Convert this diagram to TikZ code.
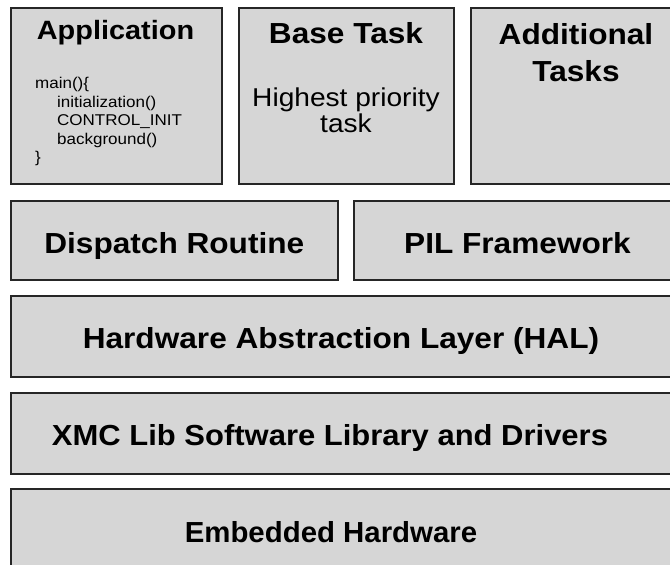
\documentclass[tikz,border=0pt]{standalone}
\usepackage{fontspec}
\setsansfont{Liberation Sans}[FakeStretch=1.09]
\usetikzlibrary{positioning}
\definecolor{layergray}{RGB}{214,214,214}
\tikzset{
layer/.style={
	draw=black!85, line width=1.6pt, fill=layergray,
	rectangle, inner sep=0pt, anchor=north west},
layername/.style={
	font=\sffamily\bfseries\fontsize{29}{37}\selectfont,
	align=center, inner sep=0pt},
layertext/.style={
	font=\sffamily\fontsize{25.8}{26}\selectfont,
	align=center, inner sep=0pt},
codetext/.style={
	font=\sffamily\fontsize{15.6}{18.5}\selectfont,
	align=left, inner sep=0pt}
}

\begin{document}
\begin{tikzpicture}[x=1pt, y=-1pt]
	\useasboundingbox (0,0) rectangle (670,565);
	\clip (0,0) rectangle (670,565);
	% top row
	\node[layer, minimum width=211pt, minimum height=176pt] (app) at (10,7) {};
	\node[layer, minimum width=215pt, minimum height=176pt] (base) at (238,7) {};
	\node[layer, minimum width=230pt, minimum height=176pt] (addtasks) at (470,7) {};
	\node[layername, font=\sffamily\bfseries\fontsize{26.5}{30}\selectfont,
		anchor=base] (apptitle) at (115.5,39) {Application};
	\node[codetext, anchor=north west] (appcode) at (35,77) {main()\{\\
		\hspace*{22pt}initialization()\\
		\hspace*{22pt}CONTROL\_INIT\\
		\hspace*{22pt}background()\\
		\}};
	\node[layername, anchor=base] (basetitle) at (346,43) {Base Task};
	\node[layertext, anchor=north] (basetext) at (346,88) {Highest priority\\task};
	\node[layername, anchor=north] (addtitle) at (576,23) {Additional\\Tasks};
	% middle row
	\node[layer, minimum width=327pt, minimum height=79pt] (dispatch) at (10,200) {};
	\node[layer, minimum width=340pt, minimum height=79pt] (pil) at (353,200) {};
	\node[layername, anchor=base, yshift=-13pt] (dispatchname) at (dispatch.center) {Dispatch Routine};
	\node[layername, anchor=base, yshift=-13pt] (pilname) at (pil.center -| 517.5,0) {PIL Framework};
	% layers
	\node[layer, minimum width=680pt, minimum height=81pt] (hal) at (10,295) {};
	\node[layer, minimum width=680pt, minimum height=81pt] (xmclib) at (10,392) {};
	\node[layer, minimum width=680pt, minimum height=81pt] (hw) at (10,488) {};
	\node[layername, anchor=base, yshift=-12.5pt] (halname) at (hal.center -| 341,0) {Hardware Abstraction Layer (HAL)};
	\node[layername, anchor=base, yshift=-12.5pt, xscale=0.98] (xmcname) at (xmclib.center -| 330,0) {XMC Lib Software Library and Drivers};
	\node[layername, anchor=base, yshift=-13.5pt, xscale=0.93] (hwname) at (hw.center -| 331,0) {Embedded Hardware};
\end{tikzpicture}
\end{document}
